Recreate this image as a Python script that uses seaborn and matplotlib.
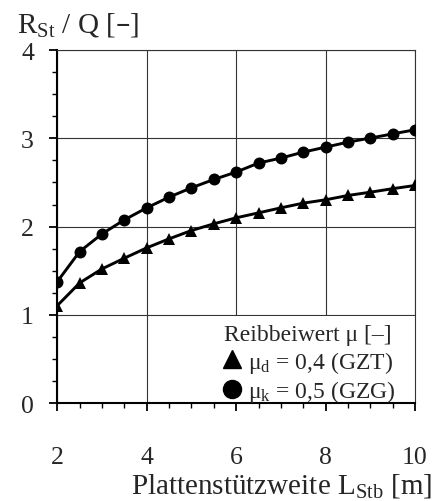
import numpy as np
import pandas as pd
import matplotlib
matplotlib.use("Agg")
import matplotlib.pyplot as plt
from matplotlib.ticker import MultipleLocator
from matplotlib.lines import Line2D
from matplotlib.patches import Rectangle
import seaborn as sns

# Span of the slab support (m)
spans = [2.0, 2.5, 3.0, 3.5, 4.0, 4.5, 5.0, 5.5, 6.0, 6.5, 7.0, 7.5, 8.0, 8.5, 9.0, 9.5, 10.0]
# R_St / Q for the design friction coefficient mu_d = 0.4 (GZT)
ratio_gzt = [1.106, 1.363, 1.522, 1.643, 1.760, 1.862, 1.956, 2.032, 2.100,
             2.156, 2.213, 2.266, 2.304, 2.353, 2.390, 2.430, 2.466]
# R_St / Q for the characteristic friction coefficient mu_k = 0.5 (GZG)
ratio_gzg = [1.378, 1.718, 1.918, 2.077, 2.213, 2.334, 2.440, 2.534, 2.618,
             2.720, 2.776, 2.844, 2.900, 2.957, 3.003, 3.050, 3.097]
series_labels = ["μ$_{d}$ = 0,4 (GZT)", "μ$_{k}$ = 0,5 (GZG)"]
legend_title = "Reibbeiwert μ [–]"
x_ticks = [2, 4, 6, 8, 10]
y_ticks = [0, 1, 2, 3, 4]

df = pd.DataFrame({
    "L": spans * 2,
    "R": ratio_gzt + ratio_gzg,
    "case": [series_labels[0]] * len(spans) + [series_labels[1]] * len(spans),
})

sns.set_style("white")
plt.rcParams["font.family"] = ["Liberation Serif", "DejaVu Serif"]
plt.rcParams["mathtext.default"] = "regular"

W, H = 445, 502
fig = plt.figure(figsize=(W / 100, H / 100), dpi=100)
ax = fig.add_axes([57.3 / W, 1 - 404.3 / H, (415 - 57.3) / W, (404.3 - 51) / H])

sns.lineplot(data=df, x="L", y="R", hue="case", style="case",
             markers={series_labels[0]: "^", series_labels[1]: "o"},
             dashes=False, palette=["black", "black"], markersize=8.6,
             markeredgewidth=0, linewidth=2.1, legend=False, ax=ax, zorder=3)

ax.set_xlim(2, 10)
ax.set_ylim(0, 4)
ax.set_xticks(x_ticks)
ax.set_yticks(y_ticks)
ax.xaxis.set_minor_locator(MultipleLocator(0.5))
ax.yaxis.set_minor_locator(MultipleLocator(0.25))
ax.grid(True, which="major", color="#333333", linewidth=0.8)
ax.set_axisbelow(True)

for side in ["top", "right"]:
    ax.spines[side].set_color("#333333")
    ax.spines[side].set_linewidth(0.8)
for side in ["left", "bottom"]:
    ax.spines[side].set_color("black")
    ax.spines[side].set_linewidth(1.5)

ax.tick_params(axis="both", which="major", direction="out", length=5.8, width=1.3,
               color="black", labelsize=18.5, left=True, bottom=True)
ax.tick_params(axis="both", which="minor", direction="out", length=3.8, width=1.0,
               color="black", left=True, bottom=True)
ax.tick_params(axis="x", which="major", pad=25)
ax.tick_params(axis="y", which="major", pad=11)
ax.set_xlabel("")
ax.set_ylabel("")

fig.text(17 / W, 1 - 33 / H, "R$_{St}$ / Q [–]", fontsize=21,
         ha="left", va="baseline")
fig.text(432 / W, 1 - 494 / H, "Plattenstützweite L$_{Stb}$ [m]", fontsize=21,
         ha="right", va="baseline")

# white panel behind the legend, below the 1.0 grid line
ax.add_patch(Rectangle((5.2, 0), 4.99, 0.985, facecolor="white", edgecolor="none",
                       zorder=1))

handles = [
    Line2D([], [], linestyle="none", marker="^", color="black", markersize=13),
    Line2D([], [], linestyle="none", marker="o", color="black", markersize=13),
]
leg = ax.legend(handles, series_labels, title=legend_title, loc="upper center",
                bbox_to_anchor=(308 / W, 1 - 325 / H), bbox_transform=fig.transFigure,
                fontsize=17, title_fontsize=17, frameon=False,
                borderaxespad=0, borderpad=0, handletextpad=0.2,
                handlelength=1.0, labelspacing=0.15)

fig.savefig("out.png", dpi=100)
